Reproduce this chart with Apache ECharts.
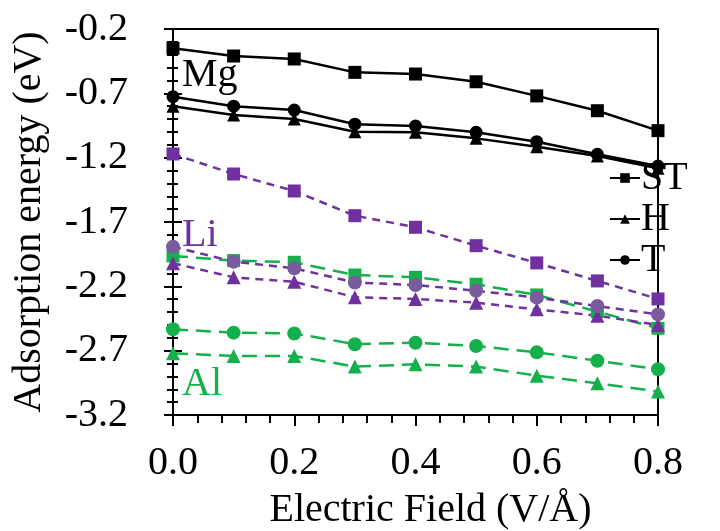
<!DOCTYPE html>
<html><head><meta charset="utf-8">
<script src="https://cdn.jsdelivr.net/npm/echarts@6/dist/echarts.min.js"></script>
<style>html,body{margin:0;padding:0;background:#fff}#c{width:720px;height:531px}</style>
</head><body><div id="c"></div>
<script>
const fields = [0, 0.1, 0.2, 0.3, 0.4, 0.5, 0.6, 0.7, 0.8];
const mgST = [-0.35, -0.41, -0.433, -0.537, -0.55, -0.61, -0.72, -0.835, -0.99];
const mgH  = [-0.80, -0.868, -0.90, -0.998, -1.003, -1.05, -1.115, -1.187, -1.283];
const mgT  = [-0.726, -0.80, -0.83, -0.94, -0.954, -1.003, -1.076, -1.174, -1.265];
const liST = [-1.171, -1.327, -1.459, -1.651, -1.741, -1.884, -2.018, -2.158, -2.298];
const liH  = [-2.02, -2.13, -2.164, -2.285, -2.298, -2.327, -2.379, -2.428, -2.50];
const liT  = [-1.892, -2.008, -2.06, -2.17, -2.19, -2.234, -2.288, -2.353, -2.418];
const alST = [-1.964, -2.0, -2.013, -2.112, -2.13, -2.184, -2.267, -2.397, -2.526];
const alH  = [-2.72, -2.741, -2.741, -2.824, -2.806, -2.824, -2.894, -2.954, -3.018];
const alT  = [-2.534, -2.56, -2.566, -2.65, -2.638, -2.664, -2.713, -2.778, -2.845];
const yTicks = [-3.2, -2.7, -2.2, -1.7, -1.2, -0.7, -0.2];
const xTicks = [0.0, 0.2, 0.4, 0.6, 0.8];

const FONT = 'Liberation Serif';
const BLACK = '#000000', PURPLE = '#7030a0', LIGREY = '#7a5c9e', GREEN = '#14b04c';
const pts = arr => fields.map((x, i) => [x, arr[i]]);
function mk(name, data, color, symbol, size, dash, lineColor, width) {
  return {
    name, type: 'line', data: pts(data), symbol, symbolSize: size, yAxisIndex: 0,
    itemStyle: { color }, lineStyle: { color: lineColor || color, width: width || 2.5, type: dash },
    emphasis: { disabled: true }, animation: false
  };
}
const yBase = { type: 'value', min: -3.2, max: -0.2, interval: 0.5, position: 'left', splitLine: { show: false } };
const chart = echarts.init(document.getElementById('c'));
chart.setOption({
  animation: false,
  grid: { left: 173, right: 62, top: 29, bottom: 116, show: true, borderColor: '#000', borderWidth: 2,
          containLabel: false, outerBoundsMode: 'none' },
  legend: {
    data: ['ST', 'H', 'T'], orient: 'vertical', left: 604, top: 153,
    itemWidth: 30, itemHeight: 12, itemGap: 1,
    textStyle: { fontFamily: FONT, fontSize: 40, color: '#000', padding: [0, 0, 0, -4] },
    selectedMode: false
  },
  xAxis: {
    type: 'value', min: 0, max: 0.8, interval: 0.2,
    name: 'Electric Field (V/Å)', nameLocation: 'middle', nameGap: 75,
    nameTextStyle: { fontFamily: FONT, fontSize: 40, color: '#000', verticalAlign: 'top', padding: [0, 0, 0, 30] },
    axisLine: { lineStyle: { color: '#000', width: 2 } },
    axisTick: { show: true, length: 11, inside: false, lineStyle: { color: '#000', width: 2 } },
    minorTick: { show: true, splitNumber: 5, length: 8, lineStyle: { color: '#000', width: 2 } },
    splitLine: { show: false },
    axisLabel: { fontFamily: FONT, fontSize: 40, color: '#000', margin: 28,
      formatter: v => xTicks.find(t => Math.abs(t - v) < 1e-6) !== undefined ? v.toFixed(1) : '' }
  },
  yAxis: [
    Object.assign({}, yBase, {
      name: 'Adsorption energy (eV)', nameLocation: 'middle', nameGap: 124, nameRotate: 90,
      nameTextStyle: { fontFamily: FONT, fontSize: 40, color: '#000' },
      axisLine: { show: true, lineStyle: { color: '#000', width: 2 } },
      axisTick: { show: true, length: 9, inside: false, lineStyle: { color: '#000', width: 2 } },
      minorTick: { show: true, splitNumber: 5, length: 6, lineStyle: { color: '#000', width: 2 } },
      axisLabel: { fontFamily: FONT, fontSize: 40, color: '#000', margin: 45,
        formatter: v => { const t = yTicks.find(t => Math.abs(t - v) < 1e-6); return t !== undefined ? t.toFixed(1) : ''; } }
    }),
    Object.assign({}, yBase, {
      axisLine: { show: false },
      axisTick: { show: true, length: 9, inside: true, lineStyle: { color: '#000', width: 2 } },
      minorTick: { show: true, splitNumber: 5, length: 5, lineStyle: { color: '#000', width: 2 } },
      axisLabel: { show: false }
    })
  ],
  graphic: [
    { type: 'text', left: 182, top: 55, style: { text: 'Mg', fontFamily: FONT, fontSize: 40, fill: BLACK } },
    { type: 'text', left: 182, top: 215, style: { text: 'Li', fontFamily: FONT, fontSize: 40, fill: PURPLE } },
    { type: 'text', left: 182, top: 364, style: { text: 'Al', fontFamily: FONT, fontSize: 40, fill: GREEN } }
  ],
  series: [
    mk('Al ST', alST, GREEN, 'rect', 13, [15, 8]),
    mk('Al T', alT, GREEN, 'circle', 14, [15, 8]),
    mk('Al H', alH, GREEN, 'triangle', 14, [15, 8]),
    mk('Li ST', liST, PURPLE, 'rect', 13, [8, 6]),
    mk('Li H', liH, PURPLE, 'triangle', 14, [8, 6]),
    mk('Li T', liT, LIGREY, 'circle', 14, [8, 6], PURPLE),
    mk('ST', mgST, BLACK, 'rect', 13, 'solid'),
    mk('H', mgH, BLACK, 'triangle', 13, 'solid'),
    mk('T', mgT, BLACK, 'circle', 13, 'solid')
  ]
});
</script></body></html>
